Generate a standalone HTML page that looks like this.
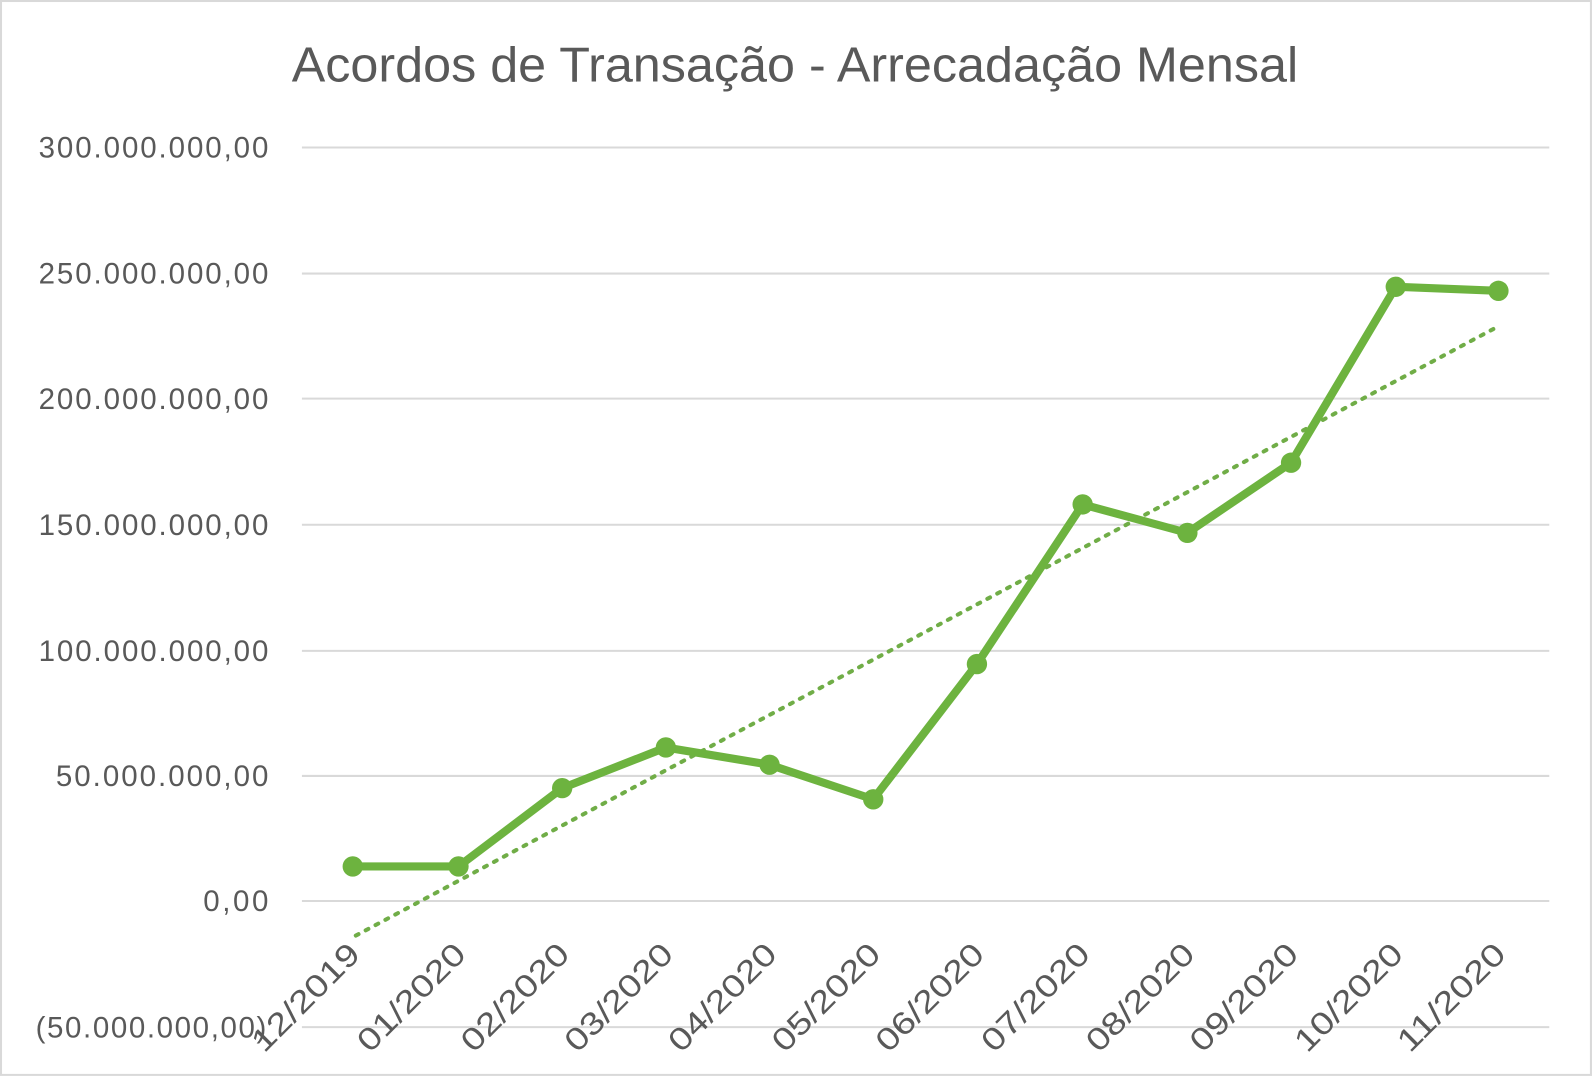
<!DOCTYPE html>
<html><head><meta charset="utf-8"><style>
html,body{margin:0;padding:0;background:#fff;}
svg{display:block;}
text{font-family:"Liberation Sans",sans-serif;fill:#595959;}
</style></head><body>
<svg width="1594" height="1080" viewBox="0 0 1568 1062" preserveAspectRatio="none">
<rect x="1" y="1" width="1564" height="1056" fill="#fff" stroke="#d9d9d9" stroke-width="2"/>
<text x="287" y="80" font-size="48" textLength="990" lengthAdjust="spacingAndGlyphs">Acordos de Transação - Arrecadação Mensal</text>
<g stroke="#d9d9d9" stroke-width="2">
<line x1="297" x2="1524" y1="145" y2="145"/>
<line x1="297" x2="1524" y1="269" y2="269"/>
<line x1="297" x2="1524" y1="392" y2="392"/>
<line x1="297" x2="1524" y1="516" y2="516"/>
<line x1="297" x2="1524" y1="640" y2="640"/>
<line x1="297" x2="1524" y1="763" y2="763"/>
<line x1="297" x2="1524" y1="886" y2="886"/>
<line x1="297" x2="1524" y1="1010" y2="1010"/>
</g>
<g font-size="29" text-anchor="end" lengthAdjust="spacingAndGlyphs">
<text x="264" y="155" textLength="226">300.000.000,00</text>
<text x="264" y="279" textLength="226">250.000.000,00</text>
<text x="264" y="402" textLength="226">200.000.000,00</text>
<text x="264" y="526" textLength="226">150.000.000,00</text>
<text x="264" y="650" textLength="226">100.000.000,00</text>
<text x="264" y="773" textLength="209">50.000.000,00</text>
<text x="264" y="896" textLength="64">0,00</text>
<text x="262" y="1020" textLength="227">(50.000.000,00)</text>
</g>
<g font-size="31" text-anchor="end">
<text transform="translate(356,940) rotate(-45)" textLength="136" lengthAdjust="spacingAndGlyphs">12/2019</text>
<text transform="translate(460,940) rotate(-45)" textLength="136" lengthAdjust="spacingAndGlyphs">01/2020</text>
<text transform="translate(562,940) rotate(-45)" textLength="136" lengthAdjust="spacingAndGlyphs">02/2020</text>
<text transform="translate(664,940) rotate(-45)" textLength="136" lengthAdjust="spacingAndGlyphs">03/2020</text>
<text transform="translate(766,940) rotate(-45)" textLength="136" lengthAdjust="spacingAndGlyphs">04/2020</text>
<text transform="translate(868,940) rotate(-45)" textLength="136" lengthAdjust="spacingAndGlyphs">05/2020</text>
<text transform="translate(970,940) rotate(-45)" textLength="136" lengthAdjust="spacingAndGlyphs">06/2020</text>
<text transform="translate(1074,940) rotate(-45)" textLength="136" lengthAdjust="spacingAndGlyphs">07/2020</text>
<text transform="translate(1177,940) rotate(-45)" textLength="136" lengthAdjust="spacingAndGlyphs">08/2020</text>
<text transform="translate(1279,940) rotate(-45)" textLength="136" lengthAdjust="spacingAndGlyphs">09/2020</text>
<text transform="translate(1382,940) rotate(-45)" textLength="136" lengthAdjust="spacingAndGlyphs">10/2020</text>
<text transform="translate(1483,940) rotate(-45)" textLength="136" lengthAdjust="spacingAndGlyphs">11/2020</text>
</g>
<line x1="350" y1="920" x2="1470" y2="323" stroke="#70ad47" stroke-width="4" stroke-dasharray="3,8" stroke-linecap="round"/>
<polyline fill="none" stroke="#6db33f" stroke-width="8" stroke-linejoin="round" points="347,852 451,852 553,775 655,735 757,752 859,786 961,653 1065,496 1168,524 1270,455 1373,282 1474,286"/>
<g fill="#6db33f">
<circle cx="347" cy="852" r="10"/><circle cx="451" cy="852" r="10"/><circle cx="553" cy="775" r="10"/><circle cx="655" cy="735" r="10"/><circle cx="757" cy="752" r="10"/><circle cx="859" cy="786" r="10"/><circle cx="961" cy="653" r="10"/><circle cx="1065" cy="496" r="10"/><circle cx="1168" cy="524" r="10"/><circle cx="1270" cy="455" r="10"/><circle cx="1373" cy="282" r="10"/><circle cx="1474" cy="286" r="10"/>
</g>
</svg>
</body></html>
